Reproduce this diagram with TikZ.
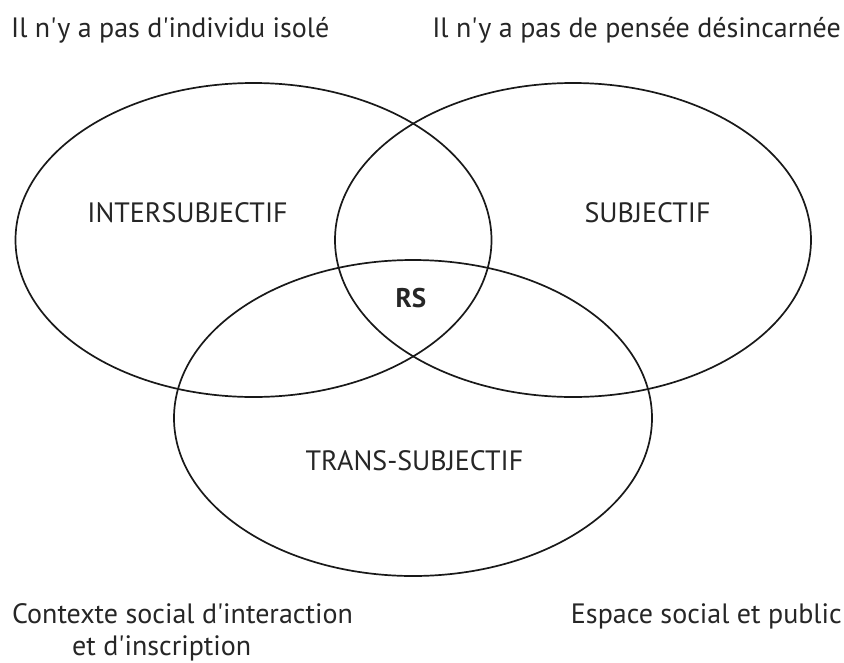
\documentclass[tikz,border=0pt]{standalone}
\usepackage{fontspec}
\setmainfont{PT Sans}[Ligatures=TeXOff]
\begin{document}
\begin{tikzpicture}[x=1pt,y=-1pt,
  ring/.style={line width=1.7pt, draw=black!90},
  lbl/.style={inner sep=0pt, font=\fontsize{28}{33}\selectfont, text=black!85},
  rs/.style={lbl, font=\fontsize{27}{32}\selectfont\bfseries}]
\useasboundingbox (0,0) rectangle (844,662);
\fill[white] (0,0) rectangle (844,662);
% circles
\draw[ring] (253.5,240) ellipse [x radius=238pt, y radius=157pt];
\draw[ring] (573,240) ellipse [x radius=238pt, y radius=157pt];
\draw[ring] (413,418) ellipse [x radius=239pt, y radius=158pt];
% labels
\node[lbl, anchor=base west] (t1) at (11,37) {Il n'y a pas d'individu isolé};
\node[lbl, anchor=base east] (t2) at (841,37) {Il n'y a pas de pensée désincarnée};
\node[lbl, anchor=base] (inter) at (187.5,222) {INTERSUBJECTIF};
\node[lbl, anchor=base] (subj) at (647.5,222) {SUBJECTIF};
\node[rs, anchor=base] (rsn) at (411,307) {RS};
\node[lbl, anchor=base] (trans) at (414.5,470) {TRANS-SUBJECTIF};
\node[lbl, anchor=base west] (c1) at (12,623) {Contexte social d'interaction};
\node[lbl, anchor=base west] (c2) at (72,655) {et d'inscription};
\node[lbl, anchor=base east] (esp) at (842,623) {Espace social et public};
\end{tikzpicture}
\end{document}
